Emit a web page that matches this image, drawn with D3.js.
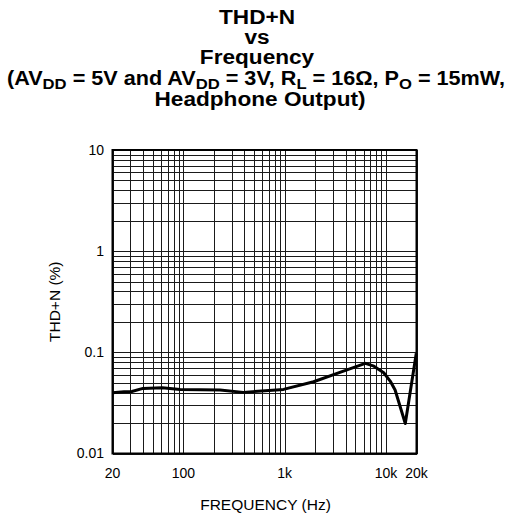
<!DOCTYPE html>
<html>
<head>
<meta charset="utf-8">
<script src="https://cdn.jsdelivr.net/npm/d3@7"></script>
<style>
  body { margin: 0; background: #fff; }
  text { font-family: "Liberation Sans", Arial, sans-serif; fill: #000; }
</style>
</head>
<body>
<script>
var w = 525;
var h = 514;

// curve
var freq = [20, 26, 31, 40, 62, 93, 230, 390, 975, 1930, 3800, 6250, 7600, 9500, 11000, 12300, 15500, 19900];
var thd  = [0.0398, 0.0408, 0.041, 0.044, 0.0446, 0.043, 0.0424, 0.0402, 0.043, 0.0512, 0.0653, 0.0778, 0.073, 0.0628, 0.052, 0.0424, 0.0198, 0.098];

var xTickVals = [20, 100, 1000, 10000, 20000];
var xTickText = ["20", "100", "1k", "10k", "20k"];
var yTickVals = [0.01, 0.1, 1, 10];
var yTickText = ["0.01", "0.1", "1", "10"];

var titleLines = ["THD+N", "vs", "Frequency"];
var titleLast = "Headphone Output)";

var plotLeft = 112.5, plotRight = 416.5, plotTop = 150, plotBottom = 453.5;

var svg = d3.select("body").append("svg")
    .attr("width", w)
    .attr("height", h);

var x = d3.scaleLog().domain([20, 20000]).range([plotLeft, plotRight]);
var y = d3.scaleLog().domain([0.01, 10]).range([plotBottom, plotTop]);

//---title----
var title = svg.append("g")
    .attr("font-weight", "bold")
    .attr("font-size", 19.5)
    .attr("text-anchor", "middle");

// the title face in the picture is a little wider than Arial
titleLines.forEach(function (s, i) {
    title.append("text")
        .attr("transform", "translate(257," + (24 + i * 20) + ") scale(1.16,1)")
        .text(s);
});

var sub = [
    ["(AV", false], ["DD", true], [" = 5V and AV", false], ["DD", true],
    [" = 3V, R", false], ["L", true], [" = 16Ω, P", false], ["O", true], [" = 15mW,", false]
];
var t4 = title.append("text")
    .attr("x", 256).attr("y", 85)
    .attr("xml:space", "preserve")
    .attr("textLength", 498)
    .attr("lengthAdjust", "spacingAndGlyphs");
var down = false;
sub.forEach(function (s) {
    var ts = t4.append("tspan").text(s[0]);
    if (s[1]) {
        ts.attr("font-size", 15).attr("dy", down ? 0 : 4);
        down = true;
    } else if (down) {
        ts.attr("dy", -4);
        down = false;
    }
});
title.append("text")
    .attr("transform", "translate(260,106) scale(1.16,1)")
    .text(titleLast);

//---grid----
var grid = svg.append("g")
    .attr("stroke", "#1a1a1a")
    .attr("stroke-width", 1)
    .attr("shape-rendering", "crispEdges");

grid.selectAll(".vx")
    .data(x.ticks())
    .enter().append("line")
    .attr("x1", function (d) { return Math.round(x(d)) + 0.5; })
    .attr("x2", function (d) { return Math.round(x(d)) + 0.5; })
    .attr("y1", plotTop)
    .attr("y2", plotBottom);

grid.selectAll(".hy")
    .data(y.ticks())
    .enter().append("line")
    .attr("y1", function (d) { return Math.round(y(d)) + 0.5; })
    .attr("y2", function (d) { return Math.round(y(d)) + 0.5; })
    .attr("x1", plotLeft)
    .attr("x2", plotRight);

// frame
svg.append("rect")
    .attr("x", plotLeft)
    .attr("y", plotTop)
    .attr("width", plotRight - plotLeft)
    .attr("height", plotBottom - plotTop)
    .attr("fill", "none")
    .attr("stroke", "#000")
    .attr("stroke-width", 2);

//---curve----
var line = d3.line()
    .x(function (d, i) { return x(freq[i]); })
    .y(function (d) { return y(d); });

svg.append("path")
    .datum(thd)
    .attr("d", line)
    .attr("fill", "none")
    .attr("stroke", "#000")
    .attr("stroke-width", 3)
    .attr("stroke-linejoin", "round");

//---tick labels----
svg.selectAll(".xt")
    .data(xTickVals)
    .enter().append("text")
    .attr("x", function (d) { return x(d); })
    .attr("y", 478)
    .attr("font-size", 14)
    .attr("text-anchor", "middle")
    .text(function (d, i) { return xTickText[i]; });

svg.selectAll(".yt")
    .data(yTickVals)
    .enter().append("text")
    .attr("x", 104)
    .attr("y", function (d) { return y(d); })
    .attr("dy", "0.35em")
    .attr("font-size", 14)
    .attr("text-anchor", "end")
    .text(function (d, i) { return yTickText[i]; });

//---axis titles----
svg.append("text")
    .attr("x", (plotLeft + plotRight) / 2 + 1)
    .attr("y", 510)
    .attr("font-size", 15.5)
    .attr("text-anchor", "middle")
    .text("FREQUENCY (Hz)");

svg.append("text")
    .attr("transform", "translate(60," + (plotTop + plotBottom) / 2 + ") rotate(-90)")
    .attr("font-size", 15.5)
    .attr("text-anchor", "middle")
    .text("THD+N (%)");
</script>
</body>
</html>
